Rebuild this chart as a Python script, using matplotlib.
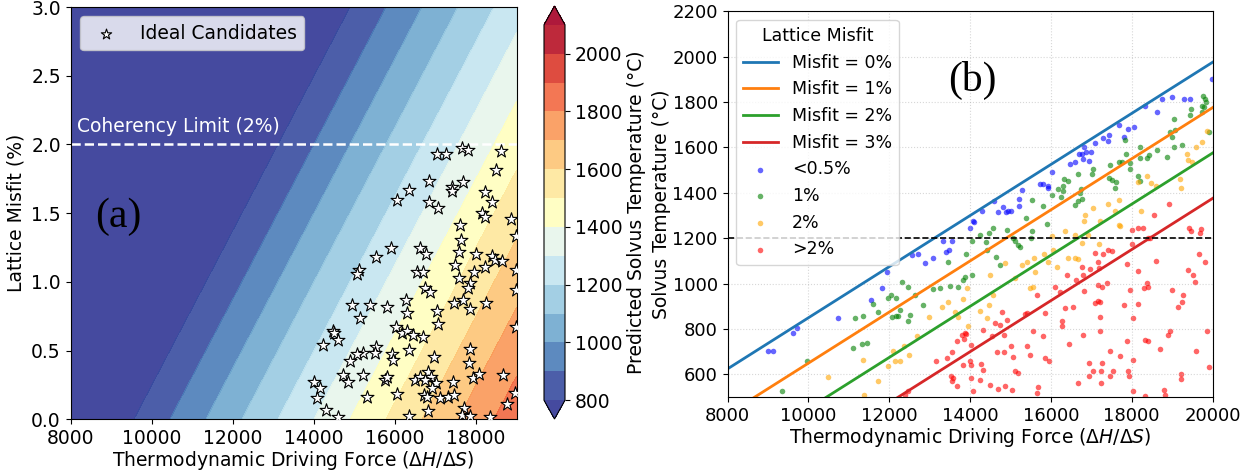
import numpy as np
import matplotlib
matplotlib.use("Agg")
import matplotlib.pyplot as plt

# linear solvus model
t_at_8000 = 624      # degC at driving force 8000, misfit 0
slope = 0.1126       # degC per unit driving force
misfit_drop = 200    # degC lost per 1 % misfit
line_misfits = [0, 1, 2, 3]
line_colors = ["tab:blue", "tab:orange", "tab:green", "tab:red"]

# (a) ideal candidates: driving force, misfit (%)
star_x = [17030, 17252, 17647, 17795, 18617, 18493, 16849, 16356, 16044, 16841,
          17055, 17400, 17417, 17688, 18222, 18403, 18140, 18222, 18863, 17606,
          17622, 17589, 17482, 17992, 18403, 18469, 18633, 18222, 17959, 17589,
          17852, 18987, 18987, 15904, 15534, 15123, 15074, 16619, 16759, 16553,
          16685, 16743, 16866, 17811, 18987, 14934, 15386, 15814, 16274, 16307,
          15140, 17030, 17466, 17688, 17852, 18239, 17055, 14466, 14498, 14605,
          14219, 16027, 16167, 16307, 16455, 16701, 15534, 15510, 15222, 15057,
          14893, 15921, 15945, 16356, 16964, 17852, 17836, 17934, 18082, 18657,
          14712, 14852, 15222, 15756, 15814, 14005, 14153, 14087, 14301, 14605,
          15304, 16060, 16496, 16619, 16825, 16882, 16743, 17014, 16907, 16718,
          16800, 17112, 17318, 17466, 17425, 16825, 16356, 17704, 17663, 17852,
          18345, 18756, 18962, 18980]
star_m = [1.934, 1.934, 1.975, 1.956, 1.951, 1.812, 1.732, 1.666, 1.593, 1.581,
          1.537, 1.691, 1.659, 1.725, 1.652, 1.581, 1.501, 1.469, 1.457, 1.411,
          1.301, 1.214, 1.124, 1.201, 1.189, 1.160, 1.148, 1.111, 1.075, 1.026,
          0.990, 1.330, 1.087, 1.243, 1.180, 1.087, 1.058, 1.245, 1.204, 1.075,
          1.075, 0.954, 0.929, 0.954, 0.942, 0.832, 0.832, 0.815, 0.869, 0.771,
          0.735, 0.791, 0.844, 0.869, 0.800, 0.844, 0.691, 0.642, 0.625, 0.577,
          0.540, 0.669, 0.630, 0.645, 0.613, 0.596, 0.528, 0.479, 0.479, 0.474,
          0.426, 0.474, 0.431, 0.504, 0.455, 0.509, 0.406, 0.302, 0.326, 0.321,
          0.321, 0.273, 0.321, 0.285, 0.309, 0.273, 0.224, 0.151, 0.066, 0.017,
          0.163, 0.180, 0.285, 0.309, 0.346, 0.309, 0.285, 0.260, 0.224, 0.175,
          0.163, 0.151, 0.158, 0.175, 0.273, 0.061, 0.022, 0.078, 0.029, 0.022,
          0.017, 0.114, 0.192, 0.674]

# (b) alloys grouped by misfit: driving force, solvus temperature
blue_x = [19983, 19298, 19447, 18993, 18746, 18638, 18333, 18069, 17921, 17822,
          17690, 17442, 17409, 17302, 17096, 16823, 16997, 16865, 16766, 16708,
          16807, 16947, 16601, 16477, 16040, 15941, 15924, 15817, 15734, 15297,
          15223, 15215, 15017, 14951, 14885, 14827, 14703, 14604, 14307, 14084,
          14002, 13342, 13548, 13400, 13482, 13094, 12888, 12723, 12575, 11939,
          11816, 11552, 10743, 9712, 9629, 9118, 9011, 14109]
blue_t = [1901, 1815, 1814, 1821, 1813, 1758, 1783, 1691, 1680, 1648,
          1698, 1653, 1629, 1641, 1619, 1604, 1582, 1578, 1572, 1569,
          1548, 1541, 1534, 1525, 1493, 1428, 1421, 1440, 1438, 1413,
          1374, 1340, 1322, 1319, 1315, 1337, 1316, 1365, 1322, 1278,
          1244, 1186, 1186, 1141, 1149, 1115, 1090, 1131, 1124, 1049,
          981, 927, 848, 804, 782, 701, 701, 1271]

green_x = [19777, 19818, 19835, 19752, 19802, 19472, 19447, 19736, 19051, 19076,
           18952, 18993, 19059, 19257, 18622, 18869, 18440, 18374, 18209, 18209,
           17838, 17855, 17756, 17962, 17690, 17467, 17970, 17442, 17038, 17013,
           16683, 16419, 16328, 16295, 16312, 16188, 16040, 16254, 16749, 16724,
           16782, 16667, 16601, 17508, 17607, 17590, 18168, 18209, 15528, 15817,
           19917, 14043, 13895, 13466, 14043, 13878, 13837, 13713, 13507, 13259,
           13094, 12847, 12640, 12459, 12327, 12269, 12162, 12047, 11981, 12063,
           12162, 12212, 12517, 12459, 11717, 11610, 11362, 11155, 11444, 11321,
           11114, 9959, 9341, 15388, 15899, 14926, 14579, 14472, 14249, 15528,
           14390, 15074, 15115, 15198, 15239, 15512, 14414, 14637, 14744]
green_t = [1827, 1813, 1802, 1783, 1780, 1769, 1744, 1758, 1727, 1677,
           1670, 1648, 1604, 1609, 1589, 1557, 1567, 1553, 1604, 1553,
           1633, 1572, 1534, 1531, 1534, 1522, 1504, 1465, 1504, 1482,
           1484, 1450, 1462, 1428, 1406, 1418, 1391, 1381, 1416, 1399,
           1374, 1362, 1347, 1457, 1446, 1421, 1475, 1450, 1368, 1340,
           1670, 1188, 1130, 1095, 1036, 1027, 1017, 983, 990, 980,
           977, 907, 951, 987, 1005, 885, 936, 951, 936, 851,
           858, 855, 863, 833, 874, 910, 858, 848, 738, 733,
           716, 657, 525, 1288, 1263, 1237, 1247, 1222, 1212, 1232,
           1183, 1203, 1188, 1168, 1161, 1200, 1149, 1119, 1083]

orange_x = [19364, 19389, 19488, 19595, 19752, 19868, 19199, 19224, 18374, 18473,
            18605, 18168, 18226, 17690, 17409, 17590, 17054, 13919, 13837, 13631,
            13713, 13961, 13449, 13301, 12987, 12682, 12492, 12104, 12146, 12269,
            12377, 11981, 11362, 11733, 10496, 11387, 16848, 16832, 17219, 17690,
            17714, 16353, 16601, 16040, 16931, 16766, 17195, 16064, 15842, 15940,
            16147, 16436, 16601, 16683, 15586, 15404, 15297, 14868, 15611, 14497,
            15115, 15569, 15487, 14579, 14472, 14249, 14414]
orange_t = [1570, 1545, 1535, 1600, 1622, 1673, 1462, 1421, 1476, 1443,
            1431, 1446, 1322, 1369, 1352, 1318, 1333, 980, 932, 874,
            851, 811, 917, 895, 851, 767, 686, 701, 661, 661,
            723, 638, 664, 569, 588, 507, 1303, 1277, 1277, 1259,
            1252, 1232, 1215, 1208, 1212, 1178, 1174, 1149, 1130, 1097,
            1075, 1112, 1112, 1109, 1112, 1097, 1083, 1090, 1053, 1036,
            1024, 987, 980, 951, 907, 880, 848]

red_x = [18927, 18564, 13796, 13895, 13688, 13862, 14027, 13548, 13424, 13152,
         13837, 14002, 13532, 13589, 13672, 13565, 14027, 14084, 12459, 12393,
         18003, 18152, 18292, 19422, 19472, 19719, 19694, 18003, 18399, 18457,
         17426, 17508, 17096, 17302, 17178, 17195, 16766, 16972, 16807, 17879,
         18597, 18168, 19678, 19818, 19406, 19529, 19571, 18374, 18317, 18415,
         16106, 16625, 16394, 17384, 17178, 17261, 16832, 15652, 16229, 17962,
         18993, 19282, 19241, 19142, 18152, 17822, 17096, 17178, 17219, 16559,
         16353, 15858, 15404, 15363, 14802, 14909, 14621, 14744, 16271, 16271,
         17219, 18044, 15569, 14332, 13878, 15817, 16807, 17219, 17879, 18333,
         18399, 18911, 18952, 18704, 19859, 14538, 14852, 16452, 15404, 15487,
         14662, 14843, 15017, 15074, 15858, 15957, 17467, 17714, 18044, 16955,
         17261, 17549, 17054, 17244, 17920, 16947, 17244, 17467, 17945, 14274,
         14332, 14027, 14249, 15116, 15198, 14489, 14687, 14868, 15050, 15677,
         15652, 16683, 18044, 18333, 18812, 18828, 19224, 19224, 19595, 19925]
red_t = [1349, 1303, 772, 777, 748, 757, 730, 697, 672, 661,
         642, 657, 591, 584, 547, 569, 584, 525, 525, 510,
         1237, 1247, 1247, 1247, 1230, 1241, 1222, 1174, 1200, 1200,
         1149, 1144, 1134, 1130, 1095, 1068, 1071, 1064, 1039, 1086,
         1100, 1056, 1130, 1097, 1061, 1039, 1009, 1002, 980, 983,
         987, 1017, 1039, 1002, 995, 983, 968, 951, 965, 973,
         973, 951, 921, 899, 910, 904, 914, 924, 921, 895,
         892, 870, 870, 866, 877, 841, 826, 819, 833, 814,
         851, 848, 792, 797, 782, 770, 774, 789, 748, 752,
         749, 774, 792, 713, 789, 767, 774, 733, 723, 686,
         698, 698, 723, 675, 672, 660, 701, 679, 664, 650,
         650, 613, 613, 613, 613, 591, 562, 591, 591, 645,
         620, 642, 576, 617, 606, 554, 537, 547, 529, 543,
         518, 562, 528, 505, 532, 507, 603, 581, 701, 632]

FS = 13.5

def solvus(x, m):
    return t_at_8000 + slope * (np.asarray(x) - 8000) - misfit_drop * np.asarray(m)

fig = plt.figure(figsize=(12.5, 4.71), dpi=100)

# ---- (a) contour map ----
ax1 = fig.add_axes([0.0564, 0.110, 0.3568, 0.875])
gx, gy = np.meshgrid(np.linspace(8000, 19000, 300), np.linspace(0, 3, 200))
levels = np.arange(800, 2101, 100)
cs = ax1.contourf(gx, gy, solvus(gx, gy), levels=levels, cmap="RdYlBu_r",
                  extend="both", alpha=0.9)
ax1.axhline(2.0, color="white", linestyle="--", linewidth=1.8)
ax1.text(8150, 2.06, "Coherency Limit (2%)", color="white", fontsize=FS, va="bottom")
ax1.scatter(star_x, star_m, marker="*", s=95, facecolor="white", edgecolor="black",
            linewidth=0.8, label="Ideal Candidates", zorder=3)
ax1.text(8600, 1.47, "(a)", fontsize=30, family="Liberation Serif", va="center")
ax1.set_xlim(8000, 19000)
ax1.set_ylim(0, 3)
ax1.set_xticks(range(8000, 18001, 2000))
ax1.set_xlabel(r"Thermodynamic Driving Force ($\Delta H/\Delta S$)", fontsize=FS, labelpad=1)
ax1.set_ylabel("Lattice Misfit (%)", fontsize=FS)
ax1.tick_params(labelsize=FS)
ax1.legend(loc="upper left", fontsize=FS, markerscale=0.8)

cax = fig.add_axes([544 / 1250, 52 / 471, 21 / 1250, 413 / 471])
cb = fig.colorbar(cs, cax=cax)
cb.set_ticks(range(800, 2001, 200))
cb.ax.tick_params(labelsize=FS)
cb.set_label("Predicted Solvus Temperature (°C)", fontsize=FS, labelpad=3)

# ---- (b) solvus vs driving force ----
ax2 = fig.add_axes([0.582, 0.157, 0.388, 0.819])
xl = np.array([8000, 20000])
for m, c in zip(line_misfits, line_colors):
    ax2.plot(xl, solvus(xl, m), color=c, linewidth=2, label=f"Misfit = {m}%")
ax2.scatter(blue_x, blue_t, s=16, color="blue", alpha=0.6, linewidths=0, label="<0.5%")
ax2.scatter(green_x, green_t, s=16, color="green", alpha=0.6, linewidths=0, label="1%")
ax2.scatter(orange_x, orange_t, s=16, color="orange", alpha=0.6, linewidths=0, label="2%")
ax2.scatter(red_x, red_t, s=16, color="red", alpha=0.6, linewidths=0, label=">2%")
ax2.axhline(1200, color="black", linestyle="--", linewidth=1.2)
ax2.text(13450, 1897, "(b)", fontsize=30, family="Liberation Serif", va="center")
ax2.set_xlim(8000, 20000)
ax2.set_ylim(500, 2200)
ax2.set_yticks(range(600, 2201, 200))
ax2.grid(True, linestyle=":", alpha=0.5)
ax2.set_xlabel(r"Thermodynamic Driving Force ($\Delta H/\Delta S$)", fontsize=FS, labelpad=1)
ax2.set_ylabel("Solvus Temperature (°C)", fontsize=FS, labelpad=1)
ax2.tick_params(labelsize=13)
ax2.legend(loc="upper left", title="Lattice Misfit", fontsize=12.5, title_fontsize=12.5)

fig.savefig("out.png", dpi=100)
